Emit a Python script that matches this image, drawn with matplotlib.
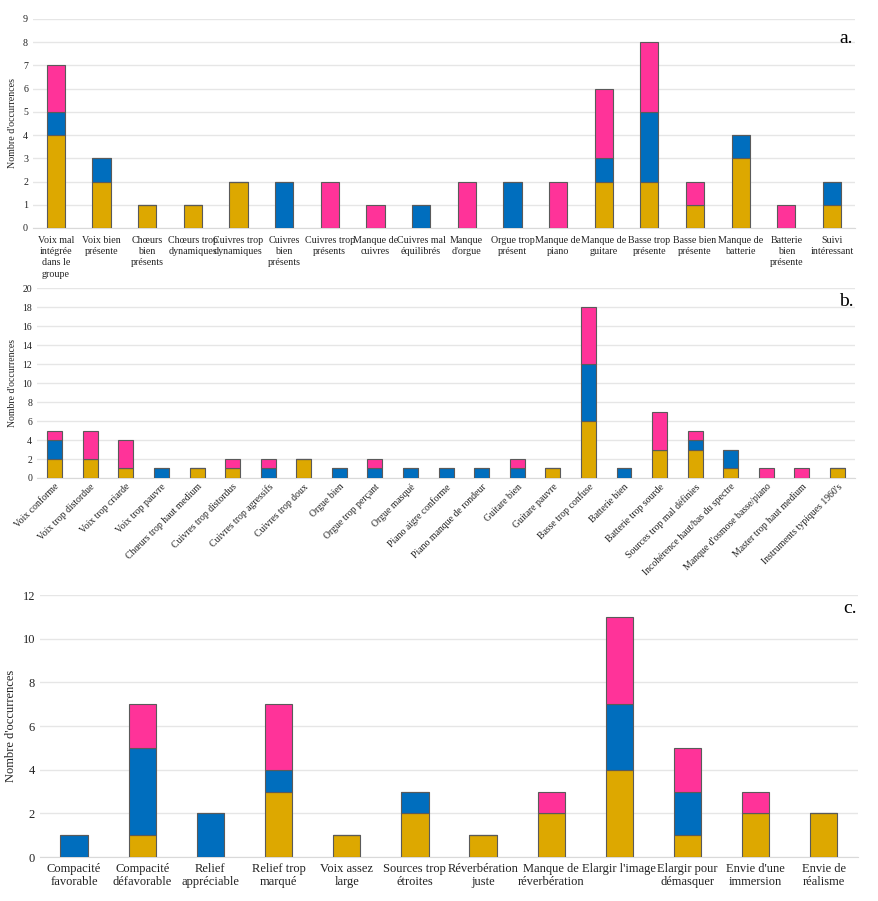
import matplotlib
matplotlib.use("Agg")
import matplotlib.pyplot as plt
import numpy as np

plt.rcParams['font.family'] = ['Liberation Serif', 'DejaVu Serif']

YELLOW = '#DDA800'
BLUE = '#006EBE'
PINK = '#FF3399'
EDGE = '#5a5a5a'

# Panel a
cats_a = ["Voix mal\nintégrée\ndans le\ngroupe", "Voix bien\nprésente", "Chœurs\nbien\nprésents",
          "Chœurs trop\ndynamiques", "Cuivres trop\ndynamiques", "Cuivres\nbien\nprésents",
          "Cuivres trop\nprésents", "Manque de\ncuivres", "Cuivres mal\néquilibrés",
          "Manque\nd'orgue", "Orgue trop\nprésent", "Manque de\npiano", "Manque de\nguitare",
          "Basse trop\nprésente", "Basse bien\nprésente", "Manque de\nbatterie",
          "Batterie\nbien\nprésente", "Suivi\nintéressant"]
yel_a = [4, 2, 1, 1, 2, 0, 0, 0, 0, 0, 0, 0, 2, 2, 1, 3, 0, 1]
blu_a = [1, 1, 0, 0, 0, 2, 0, 0, 1, 0, 2, 0, 1, 3, 0, 1, 0, 1]
pnk_a = [2, 0, 0, 0, 0, 0, 2, 1, 0, 2, 0, 2, 3, 3, 1, 0, 1, 0]

# Panel b
cats_b = ["Voix conforme", "Voix trop distordue", "Voix trop criarde", "Voix trop pauvre",
          "Chœurs trop haut medium", "Cuivres trop distordus", "Cuivres trop agressifs",
          "Cuivres trop doux", "Orgue bien", "Orgue trop perçant", "Orgue masqué",
          "Piano aigre conforme", "Piano manque de rondeur", "Guitare bien", "Guitare pauvre",
          "Basse trop confuse", "Batterie bien", "Batterie trop sourde",
          "Sources trop mal définies", "Incohérence haut/bas du spectre",
          "Manque d'osmose basse/piano", "Master trop haut medium", "Instruments typiques 1960's"]
yel_b = [2, 2, 1, 0, 1, 1, 0, 2, 0, 0, 0, 0, 0, 0, 1, 6, 0, 3, 3, 1, 0, 0, 1]
blu_b = [2, 0, 0, 1, 0, 0, 1, 0, 1, 1, 1, 1, 1, 1, 0, 6, 1, 0, 1, 2, 0, 0, 0]
pnk_b = [1, 3, 3, 0, 0, 1, 1, 0, 0, 1, 0, 0, 0, 1, 0, 6, 0, 4, 1, 0, 1, 1, 0]

# Panel c
cats_c = ["Compacité\nfavorable", "Compacité\ndéfavorable", "Relief\nappréciable",
          "Relief trop\nmarqué", "Voix assez\nlarge", "Sources trop\nétroites",
          "Réverbération\njuste", "Manque de\nréverbération", "Elargir l'image",
          "Elargir pour\ndémasquer", "Envie d'une\nimmersion", "Envie de\nréalisme"]
yel_c = [0, 1, 0, 3, 1, 2, 1, 2, 4, 1, 2, 2]
blu_c = [1, 4, 2, 1, 0, 1, 0, 0, 3, 2, 0, 0]
pnk_c = [0, 2, 0, 3, 0, 0, 0, 1, 4, 2, 1, 0]

fig = plt.figure(figsize=(8.79, 9.01), dpi=100)


def draw(ax, cats, yel, blu, pnk, ymax, ystep, width, tick_fs, label, rot=0, ls=1.15):
    x = np.arange(len(cats))
    yel = np.array(yel); blu = np.array(blu); pnk = np.array(pnk)
    kw = dict(width=width, edgecolor=EDGE, linewidth=0.8, zorder=3)
    ax.bar(x, yel, color=YELLOW, **kw)
    ax.bar(x, blu, bottom=yel, color=BLUE, **kw)
    ax.bar(x, pnk, bottom=yel + blu, color=PINK, **kw)
    ax.set_xlim(-0.5, len(cats) - 0.5)
    ax.set_ylim(0, ymax)
    ax.set_yticks(np.arange(0, ymax + 0.01, ystep))
    ax.yaxis.grid(True, color='#e6e6e6', linewidth=1.0, zorder=0)
    for s in ['top', 'right', 'left']:
        ax.spines[s].set_visible(False)
    ax.spines['bottom'].set_color('#d9d9d9')
    ax.tick_params(axis='both', length=0, labelsize=tick_fs, colors='#222222')
    ax.set_xticks(x)
    if rot:
        ax.set_xticklabels(cats, rotation=rot, ha='right', rotation_mode='anchor', fontsize=tick_fs)
    else:
        ax.set_xticklabels(cats, fontsize=tick_fs, linespacing=ls)
    ax.set_ylabel("Nombre d'occurrences", fontsize=tick_fs, color='#222222')
    ax.text(0.998, 0.93, label, transform=ax.transAxes, ha='right', va='center', fontsize=14)


ax_a = fig.add_axes([0.0375, 0.747, 0.935, 0.232])
draw(ax_a, cats_a, yel_a, blu_a, pnk_a, 9, 1, 0.4, 7.2, 'a.', ls=1.3)
ax_a.tick_params(axis='x', pad=6)
ax_a.texts[0].set_position((0.998, 0.905))

ax_b = fig.add_axes([0.042, 0.4695, 0.931, 0.2105])
draw(ax_b, cats_b, yel_b, blu_b, pnk_b, 20, 2, 0.42, 7, 'b.', rot=45)
ax_b.tick_params(axis='x', pad=3)

ax_c = fig.add_axes([0.0455, 0.0488, 0.9305, 0.2908])
draw(ax_c, cats_c, yel_c, blu_c, pnk_c, 12, 2, 0.4, 9, 'c.')
ax_c.texts[0].set_position((0.998, 0.95))
ax_c.tick_params(axis='x', pad=4)

fig.savefig('out.png', dpi=100)
